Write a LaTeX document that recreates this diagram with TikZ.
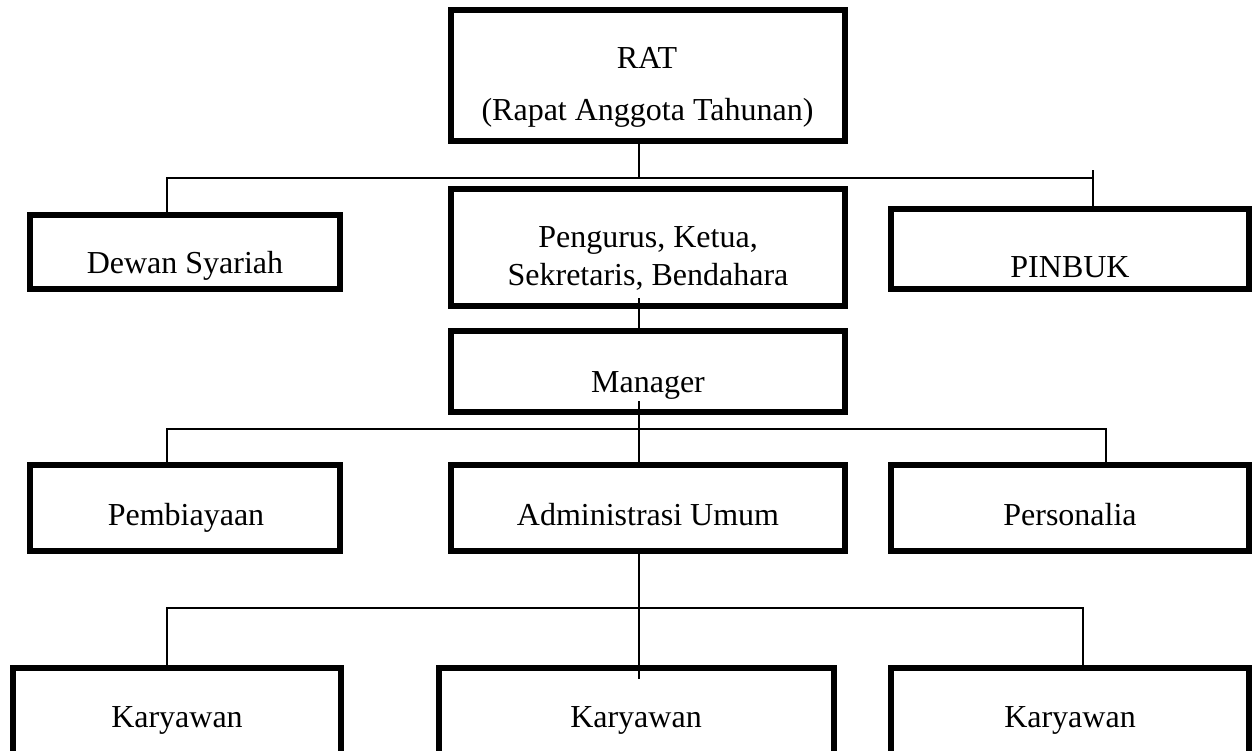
\documentclass[tikz,border=0pt]{standalone}
\usepackage{fontspec}
\setmainfont{Liberation Serif}
\begin{document}
\begin{tikzpicture}[x=1pt,y=-1pt,
  orgbox/.style={draw=black, line width=6pt, inner sep=0pt, fill=white},
  conn/.style={draw=black, line width=1.3pt},
  lbl/.style={anchor=base, inner sep=0pt, font=\fontsize{32}{38}\selectfont}]
\useasboundingbox[fill=white] (0,0) rectangle (1257,750);

% boxes (path inset by half the line width)
\node[orgbox, minimum width=394pt, minimum height=131pt] (rat) at (648,75.5) {};
\node[orgbox, minimum width=310pt, minimum height=74pt] (dewan) at (185,252) {};
\node[orgbox, minimum width=394pt, minimum height=117pt] (pengurus) at (648,247.5) {};
\node[orgbox, minimum width=358pt, minimum height=80pt] (pinbuk) at (1070,249) {};
\node[orgbox, minimum width=394pt, minimum height=81pt] (manager) at (648,371.5) {};
\node[orgbox, minimum width=310pt, minimum height=86pt] (pemb) at (185,508) {};
\node[orgbox, minimum width=394pt, minimum height=86pt] (admin) at (648,508) {};
\node[orgbox, minimum width=358pt, minimum height=86pt] (pers) at (1070,508) {};
\node[orgbox, minimum width=328pt, minimum height=100pt] (kar1) at (177,718) {};
\node[orgbox, minimum width=395pt, minimum height=100pt] (kar2) at (636.5,718) {};
\node[orgbox, minimum width=358pt, minimum height=100pt] (kar3) at (1070,718) {};

% texts
\node[lbl] (ratA) at (647,68) {RAT};
\node[lbl] (ratB) at (647.5,120) {(Rapat Anggota Tahunan)};
\node[lbl] (dewanT) at (185,273) {Dewan Syariah};
\node[lbl] (pengA) at (648,247) {Pengurus, Ketua,};
\node[lbl] (pengB) at (648,285) {Sekretaris, Bendahara};
\node[lbl] (pinbukT) at (1070,277) {PINBUK};
\node[lbl] (managerT) at (648,392) {Manager};
\node[lbl] (pembT) at (186,525) {Pembiayaan};
\node[lbl] (adminT) at (648,525) {Administrasi Umum};
\node[lbl] (persT) at (1070,525) {Personalia};
\node[lbl] (kar1T) at (177,727) {Karyawan};
\node[lbl] (kar2T) at (636,727) {Karyawan};
\node[lbl] (kar3T) at (1070,727) {Karyawan};

% junction coordinates
\coordinate (j1) at (639,178);
\coordinate (b1L) at (167,178);
\coordinate (b1R) at (1093,178);
\coordinate (b1Rt) at (1093,170);
\coordinate (p1) at (639,298);
\coordinate (m1) at (639,401);
\coordinate (j2) at (639,429);
\coordinate (b2L) at (167,429);
\coordinate (b2R) at (1106,429);
\coordinate (a1) at (639,679);
\coordinate (j3) at (639,608);
\coordinate (b3L) at (167,608);
\coordinate (b3R) at (1083,608);

% connectors
\draw[conn] (rat.south -| j1) -- (j1);
\draw[conn] (dewan.north -| b1L) -- (b1L) -- (b1R);
\draw[conn] (pinbuk.north -| b1R) -- (b1Rt);
\draw[conn] (p1) -- (manager.north -| p1);
\draw[conn] (m1) -- (admin.north -| m1);
\draw[conn] (pemb.north -| b2L) -- (b2L) -- (b2R) -- (pers.north -| b2R);
\draw[conn] (admin.south -| a1) -- (a1);
\draw[conn] (kar1.north -| b3L) -- (b3L) -- (b3R) -- (kar3.north -| b3R);
\end{tikzpicture}
\end{document}
